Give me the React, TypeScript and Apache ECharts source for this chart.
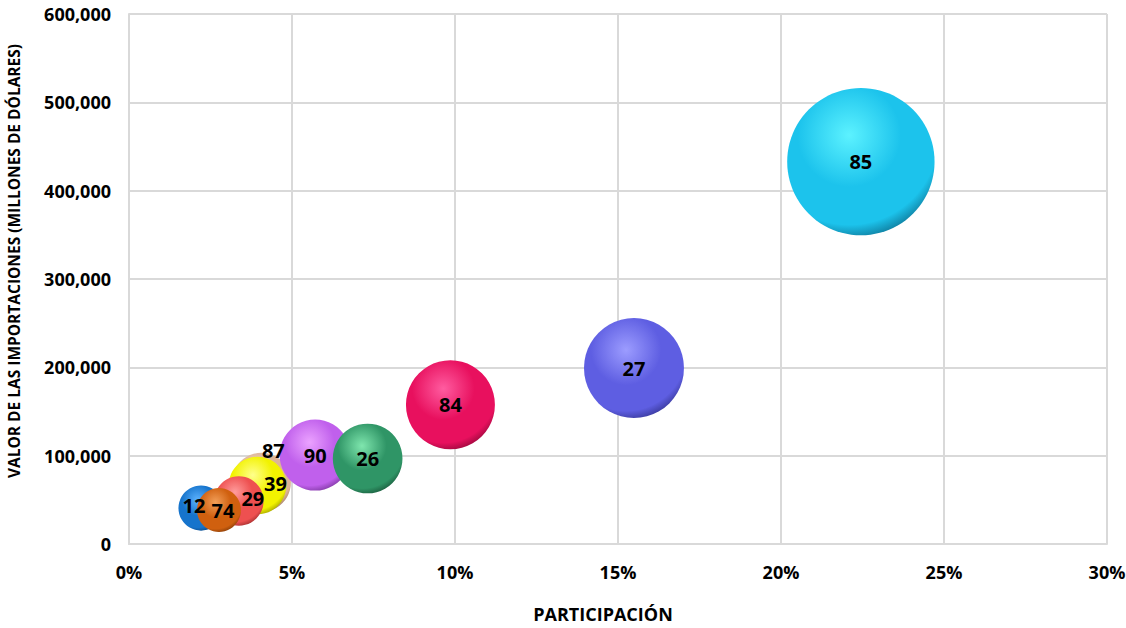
import React, { useEffect, useRef } from "react";
import * as echarts from "echarts";

// Drawing order: back to front
const codes = ["85", "27", "84", "87", "90", "26", "39", "29", "12", "74"];
const participacion = [0.2245, 0.1549, 0.0986, 0.0406, 0.0571, 0.0732, 0.0394, 0.0337, 0.0221, 0.0276];
const importaciones = [432800, 199200, 157700, 69700, 100700, 96800, 66200, 48700, 40700, 38500];
const baseColors = ["#1CC3EC", "#5E5EE2", "#E8105E", "#DDB497", "#C060EC", "#2F9566", "#F2F200", "#EE5050", "#1674CC", "#D0600F"];
const lightColors = ["#5CF2FF", "#9C9CFF", "#FF5CA0", "#F6E2D4", "#EBA2FF", "#7FE6AE", "#FFFF8C", "#FF9C9C", "#5CB2FF", "#F29E58"];
const darkColors = ["#064E6A", "#22226E", "#6E0429", "#7E5E46", "#5A2279", "#0F3B26", "#7A7A00", "#7A1C1C", "#08305C", "#5C2805"];
const labelOffsets: [number, number][] = [[0, 0], [0, 0], [0, 0], [12, -32], [0, 0], [0, 0], [18, -2], [14, -2], [-7, -3], [4, 1]];

const FONT = "'Open Sans', 'Noto Sans', sans-serif";

export default function App() {
  const ref = useRef<HTMLDivElement>(null);
  useEffect(() => {
    if (!ref.current) return;
    const chart = echarts.init(ref.current, null, { renderer: "svg" });
    const data = codes.map((c, i) => ({
      name: c,
      value: [participacion[i], importaciones[i]],
      itemStyle: {
        opacity: 1,
        color: {
          type: "radial",
          x: 0.42,
          y: 0.32,
          r: 0.78,
          colorStops: [
            { offset: 0, color: lightColors[i] },
            { offset: 0.45, color: baseColors[i] },
            { offset: 0.78, color: baseColors[i] },
            { offset: 1, color: darkColors[i] },
          ],
        },
      },
      label: { offset: labelOffsets[i] },
    }));
    chart.setOption({
      animation: false,
      backgroundColor: "#ffffff",
      grid: { left: 129, right: 19, top: 14, bottom: 84, containLabel: false, outerBoundsMode: "none" },
      xAxis: {
        type: "value",
        min: 0,
        max: 0.3,
        interval: 0.05,
        name: "PARTICIPACIÓN",
        nameLocation: "middle",
        nameGap: 61,
        nameTextStyle: { fontFamily: FONT, fontWeight: "bold", fontSize: 18, color: "#000", padding: [0, 30, 0, 0] },
        axisLine: { show: true, lineStyle: { color: "#D9D9D9", width: 2 } },
        axisTick: { show: false },
        splitLine: { show: true, lineStyle: { color: "#D9D9D9", width: 2 } },
        axisLabel: {
          margin: 19,
          fontFamily: FONT,
          fontWeight: "bold",
          fontSize: 18,
          color: "#000",
          formatter: (v: number) => Math.round(v * 100) + "%",
        },
      },
      yAxis: {
        type: "value",
        min: 0,
        max: 600000,
        interval: 100000,
        name: "VALOR DE LAS IMPORTACIONES (MILLONES DE DÓLARES)",
        nameLocation: "middle",
        nameRotate: 90,
        nameGap: 107,
        nameTextStyle: { fontFamily: FONT, fontWeight: "bold", fontSize: 15.5, color: "#000", padding: [0, 0, 0, 36] },
        axisLine: { show: true, lineStyle: { color: "#D9D9D9", width: 2 } },
        axisTick: { show: false },
        splitLine: { show: true, lineStyle: { color: "#D9D9D9", width: 2 } },
        axisLabel: {
          margin: 18,
          fontFamily: FONT,
          fontWeight: "bold",
          fontSize: 18,
          color: "#000",
          formatter: (v: number) => v.toLocaleString("en-US"),
        },
      },
      series: [
        {
          type: "scatter",
          data,
          symbol: "circle",
          symbolSize: (val: number[]) => 0.224 * Math.sqrt(val[1]),
          itemStyle: { opacity: 1 },
          label: {
            show: true,
            position: "inside",
            formatter: (p: any) => p.name,
            fontFamily: FONT,
            fontWeight: "bold",
            fontSize: 20,
            color: "#000",
            opacity: 1,
            textBorderWidth: 0,
          },
          emphasis: { disabled: true },
        },
      ],
    });
    return () => chart.dispose();
  }, []);
  return (
    <div
      ref={ref}
      style={{ position: "fixed", left: 0, top: 0, width: 1126, height: 628, background: "#fff" }}
    />
  );
}
